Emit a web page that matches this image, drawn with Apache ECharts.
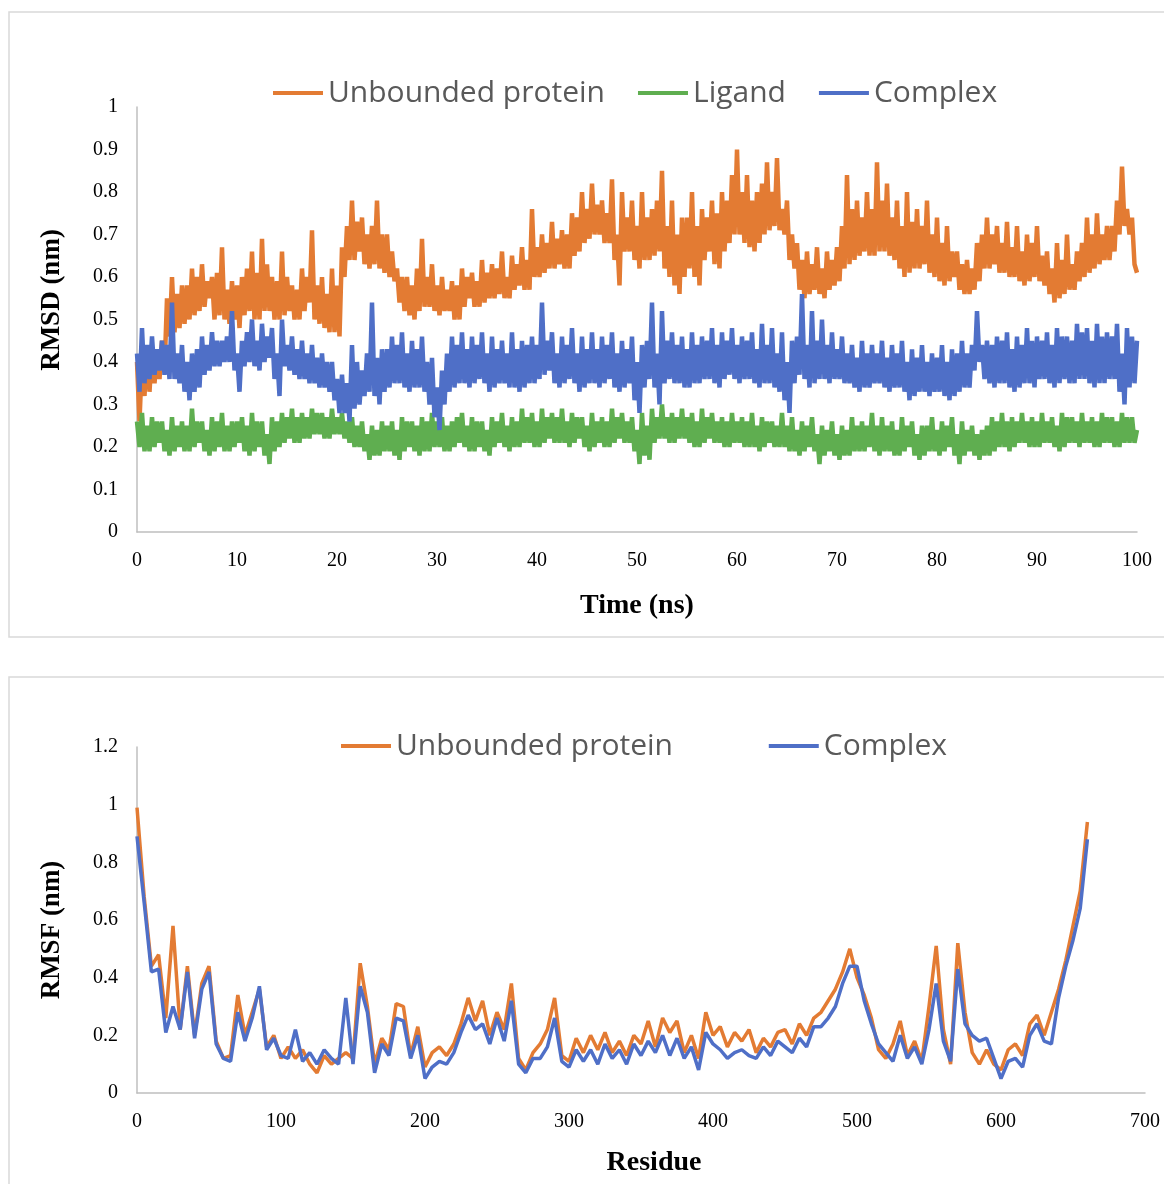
<!DOCTYPE html>
<html>
<head>
<meta charset="utf-8">
<script src="https://cdn.jsdelivr.net/npm/echarts@6/dist/echarts.min.js"></script>
<style>
html,body{margin:0;padding:0;background:#fff;}
#chart{width:1164px;height:1184px;}
</style>
</head>
<body>
<div id="chart"></div>
<script>
// ---------- Top panel: RMSD vs time (ns), sampled every 0.25 ns ----------
const timeStep = 0.25;
const unboundRmsd = [
0.40,0.26,0.41,0.32,0.44,0.33,0.43,0.35,0.42,0.36,0.45,0.38,0.55,0.46,0.60,0.47,0.56,0.48,0.58,0.49,
0.58,0.50,0.62,0.51,0.60,0.52,0.63,0.53,0.59,0.55,0.60,0.50,0.61,0.51,0.67,0.50,0.57,0.49,0.59,0.50,
0.58,0.48,0.60,0.51,0.62,0.52,0.66,0.50,0.61,0.50,0.69,0.52,0.63,0.52,0.60,0.50,0.59,0.50,0.66,0.51,
0.60,0.52,0.58,0.50,0.57,0.50,0.62,0.52,0.60,0.54,0.71,0.50,0.58,0.49,0.60,0.48,0.56,0.47,0.62,0.47,
0.58,0.46,0.67,0.60,0.72,0.64,0.78,0.64,0.73,0.66,0.74,0.63,0.70,0.62,0.72,0.63,0.78,0.62,0.70,0.61,
0.70,0.60,0.66,0.59,0.62,0.54,0.60,0.52,0.60,0.51,0.58,0.50,0.62,0.52,0.69,0.53,0.60,0.53,0.63,0.52,
0.58,0.51,0.60,0.52,0.57,0.52,0.59,0.50,0.58,0.50,0.62,0.53,0.60,0.55,0.61,0.53,0.59,0.53,0.64,0.54,
0.61,0.55,0.63,0.55,0.62,0.56,0.66,0.55,0.60,0.55,0.65,0.57,0.63,0.58,0.67,0.57,0.64,0.57,0.76,0.60,
0.67,0.60,0.70,0.61,0.68,0.62,0.73,0.62,0.69,0.63,0.71,0.62,0.70,0.62,0.75,0.65,0.74,0.66,0.80,0.68,
0.76,0.69,0.82,0.70,0.77,0.70,0.78,0.68,0.75,0.68,0.83,0.64,0.70,0.58,0.80,0.66,0.74,0.66,0.78,0.64,
0.72,0.62,0.80,0.64,0.74,0.64,0.76,0.65,0.78,0.66,0.85,0.62,0.72,0.60,0.78,0.58,0.70,0.56,0.74,0.60,
0.74,0.62,0.80,0.60,0.72,0.58,0.76,0.64,0.74,0.66,0.78,0.63,0.75,0.62,0.80,0.66,0.78,0.68,0.84,0.70,
0.90,0.70,0.80,0.68,0.84,0.67,0.78,0.66,0.80,0.68,0.82,0.70,0.87,0.71,0.80,0.72,0.88,0.71,0.76,0.70,
0.78,0.64,0.70,0.62,0.68,0.57,0.64,0.55,0.66,0.56,0.63,0.57,0.67,0.56,0.62,0.55,0.66,0.57,0.64,0.58,
0.67,0.59,0.72,0.62,0.84,0.63,0.76,0.64,0.78,0.65,0.74,0.66,0.80,0.65,0.76,0.65,0.87,0.66,0.78,0.66,
0.82,0.65,0.74,0.64,0.78,0.62,0.72,0.60,0.80,0.61,0.73,0.62,0.76,0.62,0.72,0.63,0.78,0.61,0.70,0.60,
0.74,0.59,0.68,0.58,0.72,0.59,0.66,0.60,0.66,0.57,0.63,0.56,0.64,0.56,0.62,0.57,0.68,0.59,0.70,0.62,
0.74,0.62,0.70,0.63,0.72,0.61,0.68,0.61,0.73,0.60,0.67,0.60,0.72,0.59,0.66,0.58,0.70,0.59,0.68,0.60,
0.72,0.59,0.65,0.58,0.66,0.56,0.62,0.54,0.68,0.55,0.64,0.56,0.70,0.57,0.63,0.57,0.66,0.59,0.68,0.60,
0.74,0.61,0.70,0.62,0.75,0.63,0.70,0.64,0.72,0.64,0.72,0.66,0.78,0.70,0.86,0.72,0.76,0.70,0.74,0.63,
0.61];
const ligandRmsd = [
0.26,0.20,0.28,0.19,0.25,0.19,0.27,0.20,0.26,0.21,0.26,0.19,0.24,0.18,0.27,0.19,0.25,0.20,0.26,0.19,
0.25,0.19,0.29,0.20,0.26,0.21,0.26,0.19,0.24,0.18,0.27,0.19,0.26,0.20,0.28,0.19,0.25,0.19,0.26,0.20,
0.26,0.21,0.27,0.19,0.25,0.18,0.28,0.19,0.26,0.20,0.26,0.18,0.23,0.16,0.27,0.19,0.26,0.20,0.28,0.21,
0.27,0.22,0.29,0.21,0.27,0.21,0.28,0.22,0.27,0.22,0.29,0.23,0.28,0.23,0.28,0.22,0.27,0.22,0.29,0.23,
0.27,0.23,0.28,0.22,0.26,0.21,0.27,0.20,0.25,0.20,0.26,0.19,0.23,0.17,0.25,0.18,0.24,0.18,0.26,0.19,
0.25,0.19,0.26,0.18,0.24,0.17,0.27,0.19,0.26,0.20,0.26,0.19,0.25,0.18,0.27,0.19,0.26,0.19,0.28,0.20,
0.26,0.20,0.27,0.19,0.25,0.19,0.26,0.20,0.27,0.21,0.28,0.20,0.25,0.19,0.27,0.19,0.26,0.20,0.26,0.19,
0.24,0.18,0.27,0.20,0.26,0.21,0.28,0.20,0.25,0.19,0.27,0.20,0.26,0.20,0.29,0.21,0.27,0.21,0.28,0.20,
0.26,0.20,0.29,0.21,0.27,0.22,0.28,0.21,0.27,0.21,0.29,0.21,0.26,0.20,0.28,0.21,0.27,0.22,0.27,0.20,
0.25,0.19,0.28,0.20,0.26,0.21,0.27,0.20,0.26,0.20,0.29,0.21,0.27,0.22,0.28,0.21,0.26,0.21,0.27,0.19,
0.24,0.16,0.28,0.18,0.25,0.17,0.29,0.21,0.27,0.22,0.30,0.22,0.27,0.21,0.28,0.21,0.27,0.22,0.29,0.22,
0.27,0.21,0.28,0.20,0.26,0.20,0.29,0.21,0.27,0.22,0.28,0.21,0.26,0.21,0.27,0.20,0.26,0.20,0.28,0.21,
0.26,0.21,0.27,0.20,0.26,0.20,0.28,0.20,0.25,0.19,0.27,0.20,0.26,0.21,0.26,0.20,0.25,0.20,0.28,0.20,
0.25,0.19,0.27,0.19,0.24,0.18,0.26,0.19,0.25,0.20,0.27,0.19,0.23,0.16,0.25,0.18,0.24,0.19,0.26,0.18,
0.23,0.17,0.25,0.18,0.24,0.18,0.27,0.19,0.25,0.19,0.26,0.19,0.25,0.20,0.28,0.19,0.25,0.18,0.27,0.19,
0.25,0.19,0.26,0.18,0.24,0.18,0.27,0.19,0.25,0.20,0.26,0.18,0.23,0.17,0.25,0.18,0.25,0.19,0.27,0.19,
0.24,0.18,0.26,0.19,0.25,0.20,0.27,0.18,0.23,0.16,0.26,0.18,0.24,0.19,0.25,0.18,0.23,0.17,0.24,0.18,
0.25,0.18,0.27,0.19,0.26,0.20,0.28,0.20,0.26,0.19,0.27,0.20,0.26,0.21,0.28,0.21,0.26,0.20,0.27,0.20,
0.26,0.20,0.28,0.21,0.26,0.21,0.27,0.20,0.25,0.19,0.28,0.20,0.27,0.21,0.27,0.21,0.26,0.20,0.28,0.21,
0.26,0.21,0.27,0.20,0.26,0.20,0.28,0.21,0.27,0.21,0.27,0.20,0.26,0.20,0.28,0.21,0.27,0.21,0.27,0.21,
0.24];
const complexRmsd = [
0.42,0.33,0.48,0.35,0.44,0.36,0.46,0.37,0.43,0.38,0.45,0.37,0.44,0.36,0.54,0.36,0.42,0.35,0.44,0.33,
0.40,0.31,0.42,0.33,0.43,0.34,0.46,0.37,0.44,0.38,0.47,0.39,0.45,0.39,0.45,0.40,0.46,0.40,0.52,0.38,
0.42,0.33,0.45,0.39,0.47,0.40,0.50,0.39,0.45,0.38,0.49,0.40,0.46,0.41,0.48,0.36,0.42,0.32,0.50,0.39,
0.44,0.38,0.46,0.37,0.43,0.36,0.45,0.36,0.42,0.35,0.44,0.35,0.41,0.34,0.42,0.34,0.40,0.33,0.40,0.31,
0.36,0.28,0.37,0.28,0.35,0.26,0.44,0.29,0.40,0.30,0.38,0.32,0.42,0.33,0.54,0.32,0.41,0.30,0.43,0.33,
0.43,0.34,0.46,0.35,0.44,0.35,0.47,0.34,0.42,0.33,0.45,0.34,0.43,0.34,0.46,0.33,0.40,0.30,0.41,0.27,
0.34,0.24,0.38,0.30,0.42,0.33,0.46,0.34,0.44,0.35,0.47,0.35,0.43,0.34,0.46,0.35,0.44,0.36,0.47,0.35,
0.42,0.33,0.46,0.34,0.43,0.35,0.45,0.35,0.42,0.34,0.47,0.34,0.43,0.33,0.45,0.34,0.44,0.35,0.46,0.35,
0.44,0.36,0.54,0.37,0.45,0.38,0.47,0.35,0.42,0.34,0.46,0.35,0.44,0.36,0.48,0.35,0.42,0.33,0.46,0.34,
0.43,0.35,0.47,0.35,0.43,0.34,0.46,0.35,0.44,0.36,0.47,0.34,0.42,0.33,0.45,0.34,0.43,0.35,0.46,0.31,
0.40,0.28,0.44,0.34,0.45,0.36,0.54,0.34,0.42,0.30,0.52,0.35,0.45,0.36,0.47,0.35,0.44,0.35,0.46,0.34,
0.43,0.34,0.47,0.35,0.44,0.35,0.46,0.36,0.45,0.36,0.48,0.35,0.44,0.34,0.47,0.36,0.45,0.37,0.48,0.36,
0.44,0.35,0.46,0.36,0.45,0.36,0.47,0.35,0.43,0.34,0.49,0.35,0.44,0.35,0.48,0.34,0.42,0.33,0.47,0.31,
0.40,0.28,0.45,0.35,0.46,0.37,0.56,0.36,0.44,0.34,0.52,0.35,0.45,0.36,0.50,0.36,0.44,0.35,0.47,0.36,
0.43,0.36,0.46,0.35,0.42,0.35,0.44,0.34,0.41,0.33,0.45,0.34,0.42,0.34,0.44,0.35,0.42,0.35,0.45,0.34,
0.41,0.33,0.44,0.34,0.42,0.34,0.45,0.33,0.40,0.31,0.43,0.32,0.41,0.33,0.44,0.33,0.40,0.32,0.42,0.33,
0.41,0.33,0.44,0.32,0.40,0.31,0.43,0.32,0.42,0.33,0.45,0.34,0.42,0.34,0.44,0.38,0.52,0.40,0.44,0.36,
0.45,0.35,0.44,0.34,0.46,0.35,0.45,0.35,0.47,0.34,0.43,0.33,0.46,0.34,0.44,0.35,0.48,0.35,0.45,0.34,
0.46,0.36,0.45,0.36,0.47,0.35,0.44,0.34,0.48,0.35,0.46,0.36,0.46,0.35,0.45,0.35,0.49,0.36,0.47,0.36,
0.48,0.35,0.45,0.34,0.49,0.35,0.46,0.35,0.47,0.36,0.46,0.36,0.49,0.33,0.42,0.30,0.48,0.34,0.46,0.35,
0.45];
const timeTicks = {min: 0, max: 100, interval: 10};
const rmsdTicks = {min: 0, max: 1, interval: 0.1};

// ---------- Bottom panel: RMSF vs residue, sampled every 5 residues ----------
const residueStep = 5;
const unboundRmsf = [
0.99,0.68,0.44,0.48,0.26,0.58,0.22,0.44,0.20,0.38,
0.44,0.18,0.12,0.13,0.34,0.20,0.28,0.36,0.16,0.20,
0.12,0.16,0.12,0.15,0.10,0.07,0.13,0.10,0.12,0.14,
0.12,0.45,0.30,0.10,0.19,0.15,0.31,0.30,0.13,0.23,
0.09,0.14,0.16,0.13,0.17,0.24,0.33,0.25,0.32,0.20,
0.28,0.22,0.38,0.12,0.08,0.14,0.17,0.22,0.33,0.13,
0.11,0.19,0.14,0.20,0.15,0.21,0.14,0.18,0.13,0.20,
0.17,0.25,0.16,0.26,0.21,0.25,0.14,0.20,0.12,0.28,
0.20,0.23,0.16,0.21,0.18,0.22,0.14,0.19,0.16,0.21,
0.22,0.17,0.24,0.20,0.26,0.28,0.32,0.36,0.42,0.50,
0.40,0.34,0.26,0.15,0.12,0.17,0.25,0.13,0.18,0.11,
0.30,0.51,0.22,0.10,0.52,0.28,0.14,0.10,0.15,0.10,
0.08,0.15,0.17,0.13,0.24,0.27,0.20,0.28,0.36,0.46,
0.58,0.70,0.94];
const complexRmsf = [
0.89,0.66,0.42,0.43,0.21,0.30,0.22,0.42,0.19,0.36,
0.42,0.17,0.12,0.11,0.28,0.18,0.26,0.37,0.15,0.19,
0.13,0.12,0.22,0.11,0.14,0.10,0.15,0.12,0.10,0.33,
0.10,0.37,0.28,0.07,0.17,0.13,0.26,0.25,0.12,0.20,
0.05,0.09,0.11,0.10,0.14,0.21,0.27,0.22,0.24,0.17,
0.26,0.18,0.32,0.10,0.07,0.12,0.12,0.16,0.26,0.11,
0.09,0.15,0.11,0.15,0.10,0.17,0.12,0.15,0.10,0.17,
0.13,0.18,0.14,0.20,0.13,0.19,0.12,0.16,0.08,0.21,
0.17,0.15,0.12,0.14,0.15,0.13,0.12,0.16,0.13,0.18,
0.16,0.14,0.19,0.16,0.23,0.23,0.26,0.30,0.38,0.44,
0.44,0.32,0.24,0.17,0.14,0.11,0.20,0.12,0.16,0.10,
0.22,0.38,0.18,0.11,0.43,0.24,0.20,0.18,0.19,0.12,
0.05,0.11,0.12,0.09,0.20,0.24,0.18,0.17,0.33,0.44,
0.53,0.64,0.88];
const residueTicks = {min: 0, max: 700, interval: 100};
const rmsfTicks = {min: 0, max: 1.2, interval: 0.2};

const seriesNames = ['Unbounded protein', 'Ligand', 'Complex'];
const colors = {orange: '#E37B33', green: '#5FAE50', blue: '#4F6FC7'};

function pairs(step, arr) {
  return arr.map((v, i) => [+(i * step).toFixed(2), v]);
}

const serif = '"Liberation Serif","Times New Roman",serif';
const sans = '"Open Sans","Noto Sans",sans-serif';
const axisLineStyle = {show: true, lineStyle: {color: '#bfbfbf', width: 1.5}};
const tickLabel = {color: '#000', fontFamily: serif, fontSize: 20, margin: 19};

const chart = echarts.init(document.getElementById('chart'), null, {renderer: 'canvas'});
chart.setOption({
  animation: false,
  backgroundColor: '#fff',
  graphic: [
    {type: 'rect', shape: {x: 9, y: 12, width: 1170, height: 625}, style: {fill: 'none', stroke: '#d9d9d9', lineWidth: 1.5}, z: -1},
    {type: 'rect', shape: {x: 9, y: 677, width: 1170, height: 530}, style: {fill: 'none', stroke: '#d9d9d9', lineWidth: 1.5}, z: -1},
    {type: 'text', x: 52, y: 300, rotation: Math.PI / 2, style: {text: 'RMSD (nm)', font: 'bold 27px ' + serif, fill: '#000', textAlign: 'center', textVerticalAlign: 'middle'}},
    {type: 'text', x: 637, y: 606, style: {text: 'Time (ns)', font: 'bold 28px ' + serif, fill: '#000', textAlign: 'center', textVerticalAlign: 'middle'}},
    {type: 'text', x: 52, y: 930, rotation: Math.PI / 2, style: {text: 'RMSF (nm)', font: 'bold 27px ' + serif, fill: '#000', textAlign: 'center', textVerticalAlign: 'middle'}},
    {type: 'text', x: 654, y: 1163, style: {text: 'Residue', font: 'bold 28px ' + serif, fill: '#000', textAlign: 'center', textVerticalAlign: 'middle'}}
  ],
  legend: [
    {
      left: 268, top: 73, itemWidth: 50, itemHeight: 4, itemGap: 33, icon: 'rect',
      textStyle: {color: '#595959', fontFamily: sans, fontSize: 30},
      data: [
        {name: seriesNames[0], itemStyle: {color: colors.orange}},
        {name: seriesNames[1], itemStyle: {color: colors.green}},
        {name: seriesNames[2], itemStyle: {color: colors.blue}}
      ]
    },
    {
      left: 336, top: 726, itemWidth: 50, itemHeight: 4, itemGap: 88, icon: 'rect',
      textStyle: {color: '#595959', fontFamily: sans, fontSize: 30},
      data: [
        {name: seriesNames[0] + ' ', itemStyle: {color: colors.orange}},
        {name: seriesNames[2] + ' ', itemStyle: {color: colors.blue}}
      ]
    }
  ],
  grid: [
    {left: 137, top: 107, width: 1000, height: 425},
    {left: 137, top: 747, width: 1008, height: 346}
  ],
  xAxis: [
    {type: 'value', gridIndex: 0, min: timeTicks.min, max: timeTicks.max, interval: timeTicks.interval,
     axisLine: axisLineStyle, axisTick: {show: false}, splitLine: {show: false}, axisLabel: tickLabel},
    {type: 'value', gridIndex: 1, min: residueTicks.min, max: residueTicks.max, interval: residueTicks.interval,
     axisLine: axisLineStyle, axisTick: {show: false}, splitLine: {show: false}, axisLabel: tickLabel}
  ],
  yAxis: [
    {type: 'value', gridIndex: 0, min: rmsdTicks.min, max: rmsdTicks.max, interval: rmsdTicks.interval,
     axisLine: axisLineStyle, axisTick: {show: false}, splitLine: {show: false}, axisLabel: tickLabel},
    {type: 'value', gridIndex: 1, min: rmsfTicks.min, max: rmsfTicks.max, interval: rmsfTicks.interval,
     axisLine: axisLineStyle, axisTick: {show: false}, splitLine: {show: false}, axisLabel: tickLabel}
  ],
  series: [
    {name: seriesNames[0], type: 'line', xAxisIndex: 0, yAxisIndex: 0, showSymbol: false,
     data: pairs(timeStep, unboundRmsd), lineStyle: {color: colors.orange, width: 4.5}, itemStyle: {color: colors.orange}},
    {name: seriesNames[1], type: 'line', xAxisIndex: 0, yAxisIndex: 0, showSymbol: false,
     data: pairs(timeStep, ligandRmsd), lineStyle: {color: colors.green, width: 4.5}, itemStyle: {color: colors.green}},
    {name: seriesNames[2], type: 'line', xAxisIndex: 0, yAxisIndex: 0, showSymbol: false,
     data: pairs(timeStep, complexRmsd), lineStyle: {color: colors.blue, width: 4.5}, itemStyle: {color: colors.blue}},
    {name: seriesNames[0] + ' ', type: 'line', xAxisIndex: 1, yAxisIndex: 1, showSymbol: false,
     data: pairs(residueStep, unboundRmsf), lineStyle: {color: colors.orange, width: 3.5}, itemStyle: {color: colors.orange}},
    {name: seriesNames[2] + ' ', type: 'line', xAxisIndex: 1, yAxisIndex: 1, showSymbol: false,
     data: pairs(residueStep, complexRmsf), lineStyle: {color: colors.blue, width: 3.5}, itemStyle: {color: colors.blue}}
  ]
});
</script>
</body>
</html>
